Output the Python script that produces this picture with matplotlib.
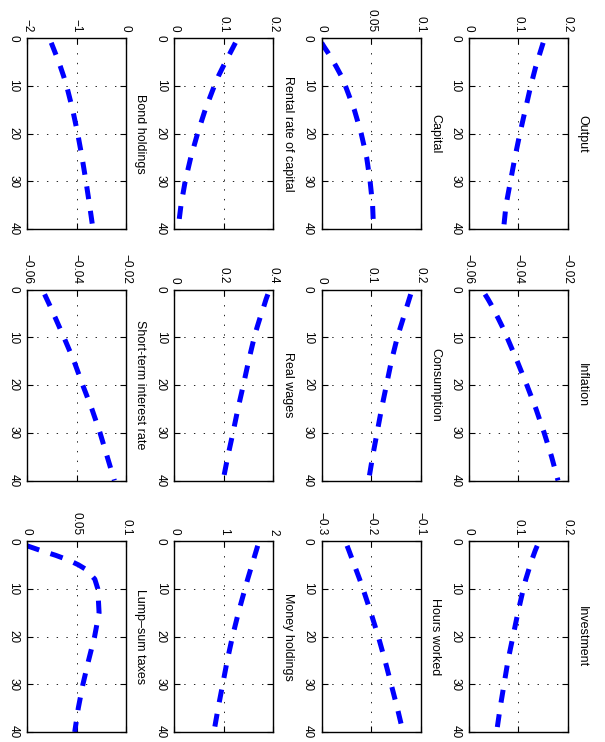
import matplotlib
matplotlib.use("Agg")
import matplotlib.pyplot as plt

plt.rcParams['font.family'] = ['Liberation Sans', 'DejaVu Sans']
plt.rcParams['lines.scale_dashes'] = False

# quarters after the shock
periods = [1, 2, 3, 4, 5, 6, 8, 10, 15, 20, 25, 30, 35, 40]

output = [0.150, 0.147, 0.144, 0.141, 0.138, 0.135, 0.130, 0.125, 0.114, 0.103, 0.093, 0.084, 0.075, 0.070]
inflation = [-0.0535, -0.0523, -0.0512, -0.0502, -0.0492, -0.0482, -0.0463, -0.0446, -0.0405, -0.0366, -0.0329, -0.0296, -0.0266, -0.0240]
investment = [0.138, 0.134, 0.1305, 0.127, 0.124, 0.121, 0.115, 0.110, 0.099, 0.089, 0.079, 0.071, 0.063, 0.056]
capital = [0.0, 0.003, 0.0062, 0.0092, 0.012, 0.0148, 0.020, 0.024, 0.033, 0.040, 0.0455, 0.049, 0.0515, 0.0525]
consumption = [0.180, 0.177, 0.174, 0.171, 0.168, 0.165, 0.159, 0.153, 0.141, 0.131, 0.121, 0.112, 0.103, 0.095]
hours = [-0.2485, -0.2448, -0.2412, -0.2376, -0.234, -0.2304, -0.2232, -0.2164, -0.2005, -0.1855, -0.172, -0.1595, -0.147, -0.1355]
rental = [0.1235, 0.1185, 0.1135, 0.1085, 0.1035, 0.0985, 0.089, 0.081, 0.0625, 0.047, 0.0333, 0.022, 0.0135, 0.0075]
wages = [0.378, 0.371, 0.365, 0.359, 0.352, 0.346, 0.334, 0.323, 0.300, 0.279, 0.257, 0.237, 0.216, 0.197]
money = [1.685, 1.656, 1.627, 1.598, 1.569, 1.54, 1.482, 1.428, 1.295, 1.175, 1.07, 0.978, 0.885, 0.80]
bonds = [-1.51, -1.472, -1.434, -1.397, -1.36, -1.325, -1.26, -1.20, -1.078, -0.976, -0.888, -0.809, -0.736, -0.667]
shortrate = [-0.0529, -0.052, -0.0511, -0.0502, -0.0494, -0.0485, -0.0468, -0.0451, -0.041, -0.0375, -0.0338, -0.0305, -0.0276, -0.0247]
taxes = [0.0, 0.014, 0.029, 0.042, 0.052, 0.060, 0.0685, 0.0715, 0.0728, 0.0683, 0.0622, 0.0565, 0.0518, 0.0482]

# rows of the original landscape page (title, series, value ticks)
panels = [
    [("Output", output, [0, 0.1, 0.2]),
     ("Inflation", inflation, [-0.06, -0.04, -0.02]),
     ("Investment", investment, [0, 0.1, 0.2])],
    [("Capital", capital, [0, 0.05, 0.1]),
     ("Consumption", consumption, [0, 0.1, 0.2]),
     ("Hours worked", hours, [-0.3, -0.2, -0.1])],
    [("Rental rate of capital", rental, [0, 0.1, 0.2]),
     ("Real wages", wages, [0, 0.2, 0.4]),
     ("Money holdings", money, [0, 1, 2])],
    [("Bond holdings", bonds, [-2, -1, 0]),
     ("Short-term interest rate", shortrate, [-0.06, -0.04, -0.02]),
     ("Lump\u2013sum taxes", taxes, [0, 0.05, 0.1])],
]
time_ticks = [0, 10, 20, 30, 40]

W, H = 605, 742


def fmt(v):
    return ("%g" % v).replace("-", "\u2212")


fig = plt.figure(figsize=(W / 100, H / 100), dpi=100)

# page is turned a quarter clockwise: original rows become columns (right to left)
for i, row in enumerate(panels):
    for j, (name, vals, vticks) in enumerate(row):
        c = 3 - i
        left = 27 + c * 147.3
        top = 38 + j * 251.5
        ax = fig.add_axes([left / W, 1 - (top + 191) / H, 99 / W, 191 / H])
        ax.plot(vals, periods, color='blue', linewidth=3.6, dashes=(9.3, 8.5),
                dash_capstyle='butt')
        ax.set_xlim(vticks[0], vticks[-1])
        ax.set_ylim(40, 0)
        ax.xaxis.tick_top()
        ax.set_xticks(vticks, labels=[fmt(v) for v in vticks], rotation=-90)
        ax.set_yticks(time_ticks, labels=[fmt(t) for t in time_ticks],
                      rotation=-90, va='center')
        ax.tick_params(direction='in', length=4, width=0.8, labelsize=8.5,
                       top=True, bottom=True, left=True, right=True,
                       labeltop=True, labelbottom=False)
        ax.tick_params(axis='x', pad=4.3)
        ax.tick_params(axis='y', pad=5.5)
        ax.grid(True, linestyle=(0, (1, 6)), color='black', linewidth=0.6)
        for s in ax.spines.values():
            s.set_linewidth(1.0)
        ax.text(1.085, 0.5, name, transform=ax.transAxes, rotation=-90,
                ha='left', va='center', fontsize=9)

fig.savefig('out.png', dpi=100)
